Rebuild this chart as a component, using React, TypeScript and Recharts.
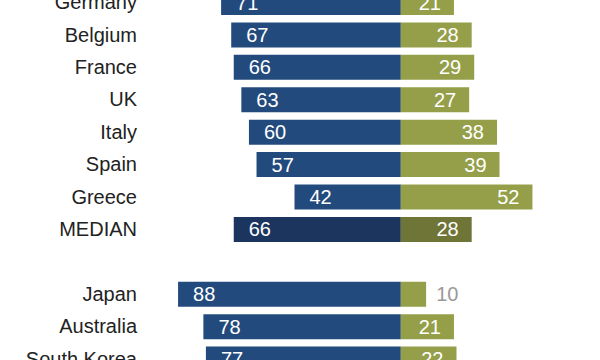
import React from 'react';
import { BarChart, Bar, XAxis, YAxis, Cell, LabelList } from 'recharts';

// rows, top to bottom (blank row separates the two groups)
const countries = ['Germany', 'Belgium', 'France', 'UK', 'Italy', 'Spain', 'Greece', 'MEDIAN', '', 'Japan', 'Australia', 'South Korea'];
const leftValues = [71, 67, 66, 63, 60, 57, 42, 66, null, 88, 78, 77];
const rightValues = [21, 28, 29, 27, 38, 39, 52, 28, null, 10, 21, 22];

const BLUE = '#234a7d';
const GREEN = '#959f4a';
const BLUE_DARK = '#1b355f';
const GREEN_DARK = '#6e7536';
const FONT = '"Liberation Sans", Arial, sans-serif';

const data = countries.map((name, i) => ({
  name,
  left: leftValues[i] == null ? null : -(leftValues[i] as number),
  right: rightValues[i],
}));

const CountryTick = (props: any) => {
  const { x, y, payload } = props;
  return (
    <text x={x} y={y} dy={7} textAnchor="end" fill="#222" fontSize={20} fontFamily={FONT}>
      {payload.value}
    </text>
  );
};

const LeftLabel = (props: any) => {
  const { x, y, width, height, value } = props;
  if (value == null) return null;
  const left = Math.min(x, x + width);
  return (
    <text x={left + 15} y={y + height / 2} dy={7} fill="#fff" fontSize={20} fontFamily={FONT}>
      {Math.abs(value)}
    </text>
  );
};

const RightLabel = (props: any) => {
  const { x, y, width, height, value } = props;
  if (value == null) return null;
  const right = Math.max(x, x + width);
  if (value < 15) {
    return (
      <text x={right + 10} y={y + height / 2} dy={7} fill="#999" fontSize={20} fontFamily={FONT}>
        {value}
      </text>
    );
  }
  return (
    <text x={right - 13} y={y + height / 2} dy={7} textAnchor="end" fill="#fff" fontSize={20} fontFamily={FONT}>
      {value}
    </text>
  );
};

export default function App() {
  return (
    <div style={{ position: 'absolute', left: 0, top: 0, width: 600, height: 360, overflow: 'hidden', background: '#fff' }}>
      <div style={{ position: 'absolute', left: 0, top: -14 }}>
        <BarChart
          width={600}
          height={389}
          data={data}
          layout="vertical"
          stackOffset="sign"
          margin={{ top: 0, right: 22, left: 0, bottom: 0 }}
          barSize={25}
        >
          <XAxis type="number" domain={[-90, 70]} hide />
          <YAxis
            type="category"
            dataKey="name"
            width={173}
            axisLine={false}
            tickLine={false}
            tickMargin={30}
            tick={<CountryTick />}
            interval={0}
          />
          <Bar dataKey="left" stackId="a" isAnimationActive={false}>
            {data.map((d, i) => (
              <Cell key={`l-${i}`} fill={d.name === 'MEDIAN' ? BLUE_DARK : BLUE} />
            ))}
            <LabelList dataKey="left" content={<LeftLabel />} />
          </Bar>
          <Bar dataKey="right" stackId="a" isAnimationActive={false}>
            {data.map((d, i) => (
              <Cell key={`r-${i}`} fill={d.name === 'MEDIAN' ? GREEN_DARK : GREEN} />
            ))}
            <LabelList dataKey="right" content={<RightLabel />} />
          </Bar>
        </BarChart>
      </div>
    </div>
  );
}
